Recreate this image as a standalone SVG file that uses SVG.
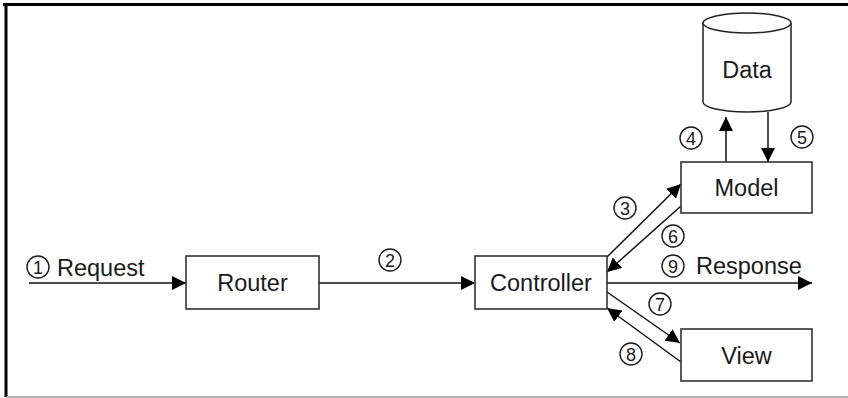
<svg xmlns="http://www.w3.org/2000/svg" width="848" height="398" viewBox="0 0 848 398">
<defs>
<marker id="ah" markerUnits="userSpaceOnUse" markerWidth="14" markerHeight="14" viewBox="0 0 14 14" refX="14" refY="7" orient="auto">
<path d="M0,0 L14,7 L0,14 Z" fill="#000"/>
</marker>
<style>
.box{fill:#fff;stroke:#333;stroke-width:1.6}
.lbl{font-family:"Liberation Sans","DejaVu Sans",sans-serif;font-size:23.5px;fill:#1a1a1a}
.ring{fill:none;stroke:#1a1a1a;stroke-width:1.4}
.dig{font-family:"Liberation Sans","DejaVu Sans",sans-serif;font-size:18px;fill:#1a1a1a;text-anchor:middle}
.c{text-anchor:middle}
.con{stroke:#111;stroke-width:1.5;fill:none;marker-end:url(#ah)}
</style>
</defs>
<rect width="848" height="398" fill="#fff"/>
<g id="frame">
<line x1="3" y1="4.5" x2="848" y2="4.5" stroke="#000" stroke-width="3"/>
<line x1="6" y1="3" x2="6" y2="397" stroke="#000" stroke-width="3"/>
<line x1="6" y1="397" x2="848" y2="397" stroke="#999" stroke-width="1.5"/>
</g>
<g id="connectors">
<line class="con" x1="29" y1="283" x2="186" y2="283"/>
<line class="con" x1="319" y1="283" x2="475" y2="283"/>
<line class="con" x1="607" y1="257" x2="681" y2="184"/>
<line class="con" x1="681" y1="206" x2="607" y2="272"/>
<line class="con" x1="607" y1="283" x2="812" y2="283"/>
<line class="con" x1="607" y1="292" x2="680" y2="343"/>
<line class="con" x1="681" y1="362" x2="607" y2="308"/>
<line class="con" x1="726" y1="162" x2="726" y2="117"/>
<line class="con" x1="768" y1="112" x2="768" y2="162"/>
</g>
<g id="data">
<path d="M703,23 V102 A44,10 0 0 0 791,102 V23" fill="#fff" stroke="#222" stroke-width="1.5"/>
<ellipse cx="747" cy="23" rx="44" ry="10" fill="#fff" stroke="#222" stroke-width="1.5"/>
<text class="lbl c" x="747" y="78">Data</text>
</g>
<g id="router">
<rect class="box" x="186" y="256" width="133" height="53"/>
<text class="lbl c" x="252.5" y="291">Router</text>
</g>
<g id="controller">
<rect class="box" x="475" y="256" width="132" height="53"/>
<text class="lbl c" x="541" y="291">Controller</text>
</g>
<g id="model">
<rect class="box" x="681" y="162" width="131" height="51"/>
<text class="lbl c" x="746.5" y="196">Model</text>
</g>
<g id="view">
<rect class="box" x="681" y="329" width="131" height="52"/>
<text class="lbl c" x="746.5" y="364">View</text>
</g>
<g id="labels">
<g id="n1"><circle class="ring" cx="38" cy="267" r="11"/><text class="dig" x="38" y="273.5">1</text></g>
<text class="lbl" x="57" y="276">Request</text>
<g id="n2"><circle class="ring" cx="390" cy="260" r="11"/><text class="dig" x="390" y="266.5">2</text></g>
<g id="n3"><circle class="ring" cx="625" cy="208" r="11"/><text class="dig" x="625" y="214.5">3</text></g>
<g id="n4"><circle class="ring" cx="691" cy="138" r="11"/><text class="dig" x="691" y="144.5">4</text></g>
<g id="n5"><circle class="ring" cx="802" cy="137" r="11"/><text class="dig" x="802" y="143.5">5</text></g>
<g id="n6"><circle class="ring" cx="673" cy="236" r="11"/><text class="dig" x="673" y="242.5">6</text></g>
<g id="n7"><circle class="ring" cx="660" cy="304" r="11"/><text class="dig" x="660" y="310.5">7</text></g>
<g id="n8"><circle class="ring" cx="631" cy="354" r="11"/><text class="dig" x="631" y="360.5">8</text></g>
<g id="n9"><circle class="ring" cx="673" cy="266" r="11"/><text class="dig" x="673" y="272.5">9</text></g>
<text class="lbl" x="696" y="274">Response</text>
</g>
</svg>
